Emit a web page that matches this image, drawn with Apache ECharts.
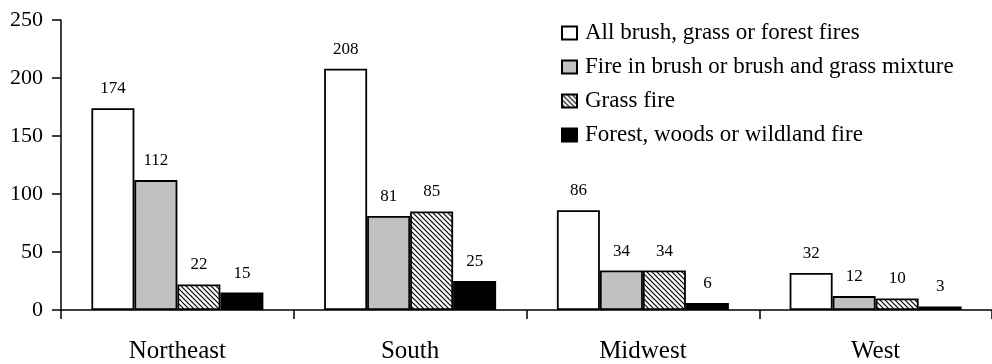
<!DOCTYPE html>
<html>
<head>
<meta charset="utf-8">
<script src="https://cdn.jsdelivr.net/npm/echarts@6/dist/echarts.min.js"></script>
<style>
  html, body { margin: 0; padding: 0; background: #fff; }
  #chart { width: 992px; height: 364px; }
</style>
</head>
<body>
<div id="chart"></div>
<script>
const regions = ['Northeast', 'South', 'Midwest', 'West'];
const seriesNames = [
  'All brush, grass or forest fires',
  'Fire in brush or brush and grass mixture',
  'Grass fire',
  'Forest, woods or wildland fire'
];
const allFires = [174, 208, 86, 32];
const brushFires = [112, 81, 34, 12];
const grassFires = [22, 85, 34, 10];
const forestFires = [15, 25, 6, 3];
const yTicks = [0, 50, 100, 150, 200, 250];

const FONT = "'Liberation Serif', 'Times New Roman', serif";

// Diagonal hatch tile for the grass-fire bars
function hatchTile() {
  const s = 5;
  const c = document.createElement('canvas');
  c.width = s; c.height = s;
  const g = c.getContext('2d');
  g.fillStyle = '#fff';
  g.fillRect(0, 0, s, s);
  g.strokeStyle = '#000';
  g.lineWidth = 1.2;
  g.beginPath();
  g.moveTo(-1, -1); g.lineTo(s + 1, s + 1);
  g.moveTo(-1, s - 1); g.lineTo(1, s + 1);
  g.moveTo(s - 1, -1); g.lineTo(s + 1, 1);
  g.stroke();
  return c;
}

const fills = ['#ffffff', '#c0c0c0', { image: hatchTile(), repeat: 'repeat' }, '#000000'];
const values = [allFires, brushFires, grassFires, forestFires];

const chart = echarts.init(document.getElementById('chart'), null, { renderer: 'canvas' });

chart.setOption({
  animation: false,
  backgroundColor: '#fff',
  textStyle: { fontFamily: FONT },
  grid: { left: 61, right: -5, top: 20, bottom: 53, containLabel: false },
  legend: {
    orient: 'vertical',
    left: 561,
    top: 21,
    padding: 0,
    itemWidth: 15,
    itemHeight: 13,
    itemGap: 10,
    icon: 'rect',
    data: seriesNames,
    textStyle: { fontFamily: FONT, fontSize: 23, color: '#000', lineHeight: 24, padding: [0, 0, 0, 3] }
  },
  xAxis: {
    type: 'category',
    data: regions,
    boundaryGap: true,
    axisLine: { lineStyle: { color: '#000', width: 1.5 } },
    axisTick: { show: true, length: 9, alignWithLabel: false, lineStyle: { color: '#000', width: 1.5 } },
    axisLabel: { color: '#000', fontSize: 25, fontFamily: FONT, margin: 29 },
    splitLine: { show: false }
  },
  yAxis: {
    type: 'value',
    min: yTicks[0],
    max: yTicks[yTicks.length - 1],
    interval: 50,
    axisLine: { show: true, lineStyle: { color: '#000', width: 1.5 } },
    axisTick: { show: true, length: 9, lineStyle: { color: '#000', width: 1.5 } },
    axisLabel: { color: '#000', fontSize: 22, fontFamily: FONT, margin: 18 },
    splitLine: { show: false }
  },
  series: seriesNames.map((name, i) => ({
    name: name,
    type: 'bar',
    data: values[i],
    barWidth: 43,
    barGap: '0%',
    itemStyle: { color: fills[i], borderColor: '#000', borderWidth: 1.8 },
    label: {
      show: true,
      position: 'top',
      distance: 11,
      color: '#000',
      fontSize: 17,
      fontFamily: FONT
    }
  }))
});
</script>
</body>
</html>
